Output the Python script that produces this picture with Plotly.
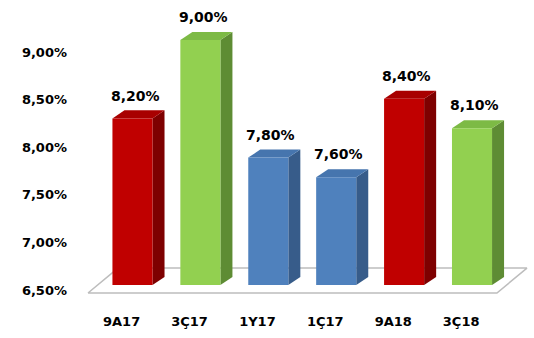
import plotly.graph_objects as go

# ---- data ----
categories = ["9A17", "3Ç17", "1Y17", "1Ç17", "9A18", "3Ç18"]
values = [8.20, 9.00, 7.80, 7.60, 8.40, 8.10]
value_labels = ["8,20%", "9,00%", "7,80%", "7,60%", "8,40%", "8,10%"]
tick_values = [6.5, 7.0, 7.5, 8.0, 8.5, 9.0]
tick_labels = ["6,50%", "7,00%", "7,50%", "8,00%", "8,50%", "9,00%"]
bar_kind = ["red", "green", "blue", "blue", "red", "green"]

# ---- style ----
palette = {
    "red":   ("#C00000", "#7E0000", "#A80000"),
    "green": ("#92D050", "#5E8C34", "#7DBA45"),
    "blue":  ("#4F81BD", "#375C8A", "#4675AE"),
}
BASE = 6.5
W = 0.59      # front face width (category units)
DX = 0.177    # depth offset x (category units)
DY = 0.082    # depth offset y (value units)
FONT = "DejaVu Sans"

fig = go.Figure()

# floor (in bar-axis units)
fx0, fx1, fdx = -0.655, 5.367, 0.442
fy0, fy1 = 6.418, 6.673
fig.add_trace(go.Scatter(
    x=[fx0, fx1, fx1 + fdx, fx0 + fdx, fx0], y=[fy0, fy0, fy1, fy1, fy0],
    mode="lines", fill="toself", fillcolor="white",
    line=dict(color="#BDBDBD", width=1.5), yaxis="y2",
    hoverinfo="skip", showlegend=False))

for i, (v, k) in enumerate(zip(values, bar_kind)):
    front, side, top = palette[k]
    l, r = i - W / 2, i + W / 2
    # side face
    fig.add_trace(go.Scatter(
        x=[r, r + DX, r + DX, r, r], y=[BASE, BASE + DY, v + DY, v, BASE],
        mode="lines", fill="toself", fillcolor=side, line=dict(width=0, color=side),
        yaxis="y2", hoverinfo="skip", showlegend=False))
    # top face
    fig.add_trace(go.Scatter(
        x=[l, r, r + DX, l + DX, l], y=[v, v, v + DY, v + DY, v],
        mode="lines", fill="toself", fillcolor=top, line=dict(width=0, color=top),
        yaxis="y2", hoverinfo="skip", showlegend=False))
    # front face
    fig.add_trace(go.Scatter(
        x=[l, r, r, l, l], y=[BASE, BASE, v, v, BASE],
        mode="lines", fill="toself", fillcolor=front, line=dict(width=0, color=front),
        yaxis="y2", hoverinfo="skip", showlegend=False))

# value labels
for i, (v, t) in enumerate(zip(values, value_labels)):
    fig.add_annotation(
        x=i + DX / 2 - 0.05, y=v + DY + 0.15, xref="x", yref="y2",
        text=t, showarrow=False,
        font=dict(family=FONT, size=14, color="black", weight="bold"))

# dummy on primary y so its axis renders
fig.add_trace(go.Scatter(x=[None], y=[None], showlegend=False, hoverinfo="skip"))

fig.update_layout(
    width=534, height=338,
    margin=dict(l=70, r=4, t=4, b=38),
    paper_bgcolor="white", plot_bgcolor="white",
    xaxis=dict(range=[-0.920, 5.854], tickvals=[i - 0.16 for i in range(len(categories))],
               ticktext=categories, showgrid=False, zeroline=False, showline=False,
               ticks="", ticklabelstandoff=12,
               tickfont=dict(family=FONT, size=13, color="black", weight="bold")),
    yaxis=dict(range=[6.395, 9.504], tickvals=tick_values, ticktext=tick_labels,
               showgrid=False, zeroline=False, showline=False, ticks="",
               ticklabelstandoff=2,
               tickfont=dict(family=FONT, size=13, color="black", weight="bold")),
    yaxis2=dict(range=[6.347, 9.367], overlaying="y", visible=False,
                showgrid=False, zeroline=False),
)

fig.write_html("out.html")
